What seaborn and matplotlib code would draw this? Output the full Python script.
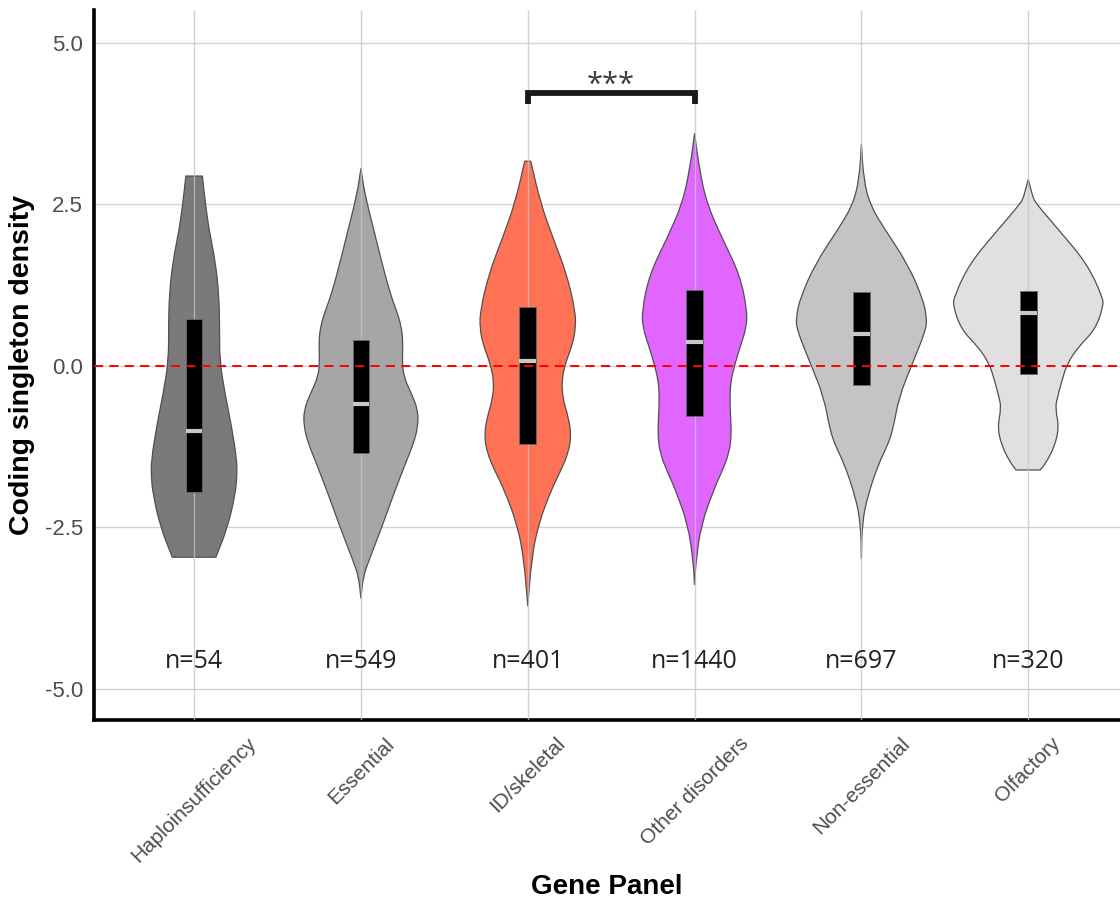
import numpy as np
import matplotlib
matplotlib.use("Agg")
import matplotlib.pyplot as plt
from matplotlib.path import Path
from matplotlib.patches import PathPatch
import seaborn as sns

# ---- data -------------------------------------------------------------
panels = ["Haploinsufficiency", "Essential", "ID/skeletal",
          "Other disorders", "Non-essential", "Olfactory"]
counts = [54, 549, 401, 1440, 697, 320]
fill_colors = ["#7a7a7a", "#a6a6a6", "#ff7256", "#e066ff", "#c4c4c4", "#e0e0e0"]

# quartiles of the coding singleton density per panel
q1 = [-1.95, -1.34, -1.21, -0.78, -0.29, -0.13]
medians = [-1.00, -0.59, 0.07, 0.37, 0.50, 0.82]
q3 = [0.72, 0.40, 0.92, 1.17, 1.15, 1.16]

# kernel density profiles (value, relative density; 1 = widest violin)
haplo_y = [2.94, 2.52, 2.10, 1.64, 1.12, 0.61, 0.09, -0.42, -0.94, -1.46, -1.71, -1.97, -2.49, -2.96]
haplo_d = [0.11, 0.15, 0.20, 0.28, 0.33, 0.34, 0.34, 0.41, 0.50, 0.57, 0.57, 0.55, 0.45, 0.29]

essential_y = [3.06, 2.67, 2.16, 1.64, 1.12, 0.87, 0.61, 0.35, 0.09, -0.17, -0.42, -0.68,
               -0.94, -1.20, -1.46, -1.97, -2.49, -3.00, -3.26, -3.60]
essential_d = [0.00, 0.05, 0.16, 0.27, 0.39, 0.47, 0.54, 0.56, 0.55, 0.57, 0.67, 0.76,
               0.76, 0.70, 0.61, 0.44, 0.28, 0.11, 0.03, 0.00]

idskel_y = [3.17, 2.52, 1.97, 1.42, 0.87, 0.59, 0.31, 0.04, -0.24, -0.52, -0.79, -1.07,
            -1.35, -1.62, -1.90, -2.45, -3.00, -3.72]
idskel_d = [0.04, 0.17, 0.34, 0.52, 0.63, 0.64, 0.59, 0.50, 0.45, 0.47, 0.54, 0.58,
            0.54, 0.44, 0.32, 0.14, 0.05, 0.00]

other_y = [3.60, 3.08, 2.52, 1.97, 1.42, 0.87, 0.59, 0.31, 0.04, -0.24, -0.52, -0.79,
           -1.07, -1.35, -1.62, -1.90, -2.45, -3.00, -3.39]
other_d = [0.00, 0.06, 0.16, 0.37, 0.60, 0.70, 0.69, 0.61, 0.54, 0.48, 0.47, 0.48,
           0.49, 0.46, 0.37, 0.26, 0.09, 0.02, 0.00]

noness_y = [3.44, 2.88, 2.48, 2.10, 1.59, 1.07, 0.76, 0.56, 0.04, -0.48, -0.99, -1.25,
            -1.51, -2.02, -2.44, -2.98]
noness_d = [0.00, 0.03, 0.12, 0.32, 0.61, 0.81, 0.87, 0.86, 0.68, 0.50, 0.42, 0.34,
            0.23, 0.08, 0.01, 0.00]

olf_y = [2.89, 2.62, 2.52, 2.10, 1.59, 1.07, 0.92, 0.56, 0.30, 0.04, -0.22, -0.48,
         -0.65, -0.95, -1.25, -1.51, -1.61]
olf_d = [0.00, 0.06, 0.10, 0.41, 0.78, 0.99, 1.00, 0.89, 0.67, 0.52, 0.45, 0.39,
         0.36, 0.41, 0.35, 0.23, 0.16]

profiles = [(haplo_y, haplo_d), (essential_y, essential_d), (idskel_y, idskel_d),
            (other_y, other_d), (noness_y, noness_d), (olf_y, olf_d)]

yticks = [-5.0, -2.5, 0.0, 2.5, 5.0]
signif_pair = (2, 3)
signif_label = "***"

# ---- style ------------------------------------------------------------
sns.set_theme(style="whitegrid")
plt.rcParams["font.family"] = ["Liberation Sans", "DejaVu Sans"]

HALF_MAX = 0.45      # half width of the widest violin (category units)
BOX_W = 0.10
GRID_C = "#d2d2d2"


def violin_patch(center, ys, dens, **kw):
    """Closed violin outline, each side drawn as a smooth quadratic curve."""
    ys = np.asarray(ys, float)
    hw = np.asarray(dens, float) * HALF_MAX
    right = np.column_stack([center + hw, ys])
    left = np.column_stack([center - hw, ys])[::-1]
    verts, codes = [], []

    def add_side(pts, first):
        verts.append(pts[0])
        codes.append(Path.MOVETO if first else Path.LINETO)
        mids = (pts[:-1] + pts[1:]) / 2
        verts.append(mids[0])
        codes.append(Path.LINETO)
        for k in range(1, len(pts) - 1):
            verts.extend([pts[k], mids[k]])
            codes.extend([Path.CURVE3, Path.CURVE3])
        verts.append(pts[-1])
        codes.append(Path.LINETO)

    add_side(right, True)
    add_side(left, False)
    verts.append(right[0])
    codes.append(Path.CLOSEPOLY)
    return PathPatch(Path(np.array(verts), codes), **kw)


fig = plt.figure(figsize=(11.2, 9), dpi=100)
ax = fig.add_axes([94 / 1120, 0.2, 1 - 94 / 1120, 710 / 900])
ax.set_facecolor("white")

pos = np.arange(len(panels))
ax.set_xlim(-0.6, 5.55)
ax.set_ylim(-5.48, 5.51)

# horizontal grid behind the violins
ax.set_axisbelow(True)
ax.grid(False)
ax.set_yticks(yticks)
ax.yaxis.grid(True, color=GRID_C, linewidth=1.0)

# violins
for i, (ys, ds) in enumerate(profiles):
    ax.add_patch(violin_patch(pos[i], ys, ds, facecolor=fill_colors[i],
                              edgecolor="#505050", linewidth=0.9, zorder=2))

# vertical grid lines show through the violins
ax.vlines(pos, -5.48, 5.51, color="#c4c4c4", alpha=0.75, linewidth=1.0, zorder=3)

# interquartile boxes with median bars
q1a, q3a = np.array(q1), np.array(q3)
ax.bar(pos, q3a - q1a, bottom=q1a, width=BOX_W, color="black",
       edgecolor="#6a6a6a", linewidth=0.6, zorder=4)
ax.hlines(medians, pos - BOX_W / 2, pos + BOX_W / 2, color="#c8c8c8",
          linewidth=3.0, zorder=5)

# reference line at zero
ax.axhline(0, color="red", linestyle=(0, (4.7, 3.2)), linewidth=1.4, zorder=6)

# sample sizes
for i, n in enumerate(counts):
    ax.text(pos[i], -4.58, f"n={n}", ha="center", va="center", fontsize=18,
            color="#222222", family=["Open Sans", "DejaVu Sans"], zorder=6)

# significance bracket
a, b = signif_pair
ax.plot([pos[a], pos[a], pos[b], pos[b]], [4.05, 4.23, 4.23, 4.05],
        color="#1a1a1a", linewidth=4.2, solid_joinstyle="miter",
        solid_capstyle="butt", zorder=6)
ax.text((pos[a] + pos[b]) / 2, 4.34, signif_label, ha="center", va="center",
        fontsize=21, color="#3a3a3a", family=["Open Sans", "DejaVu Sans"])

# axes, ticks and labels
ax.set_xticks(pos)
ax.set_xticklabels(panels, rotation=45, ha="center", fontsize=15, color="#4d4d4d")
ax.set_yticklabels([f"{t:.1f}" for t in yticks], fontsize=16, color="#4d4d4d")
ax.tick_params(axis="both", length=4, width=1, color="#4d4d4d", pad=4)
ax.tick_params(axis="x", pad=6)

for side in ("top", "right"):
    ax.spines[side].set_visible(False)
for side in ("left", "bottom"):
    ax.spines[side].set_visible(True)
    ax.spines[side].set_color("black")
    ax.spines[side].set_linewidth(2.6)

ax.set_xlabel("Gene Panel", fontsize=20, fontweight="bold", color="black", labelpad=6)
ax.set_ylabel("Coding singleton density", fontsize=20.5, fontweight="bold",
              color="black", labelpad=7)

fig.savefig("out.png", dpi=100, facecolor="white")
